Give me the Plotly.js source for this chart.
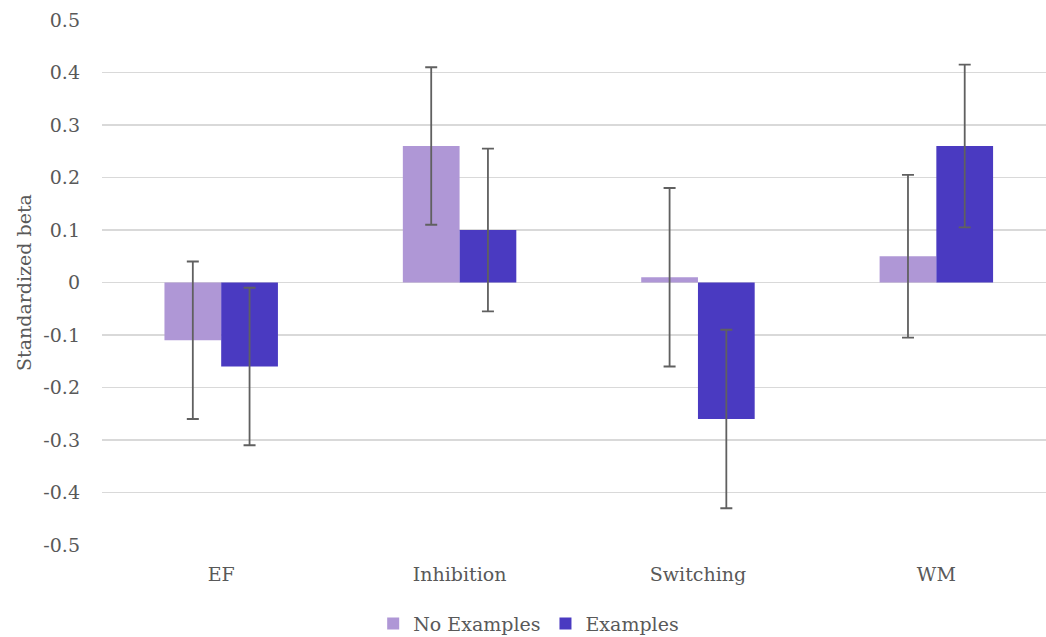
<!DOCTYPE html>
<html>
<head>
<meta charset="utf-8">
<script src="https://cdn.plot.ly/plotly-3.0.1.min.js"></script>
<style>html,body{margin:0;padding:0;background:#fff;}#chart{width:1046px;height:637px;}</style>
</head>
<body>
<div id="chart"></div>
<script>
const categories = ["EF", "Inhibition", "Switching", "WM"];
const noExamples = [-0.11, 0.26, 0.01, 0.05];
const noExamplesErr = [0.15, 0.15, 0.17, 0.155];
const examples = [-0.16, 0.10, -0.26, 0.26];
const examplesErr = [0.15, 0.155, 0.17, 0.155];
const yTicks = [-0.5, -0.4, -0.3, -0.2, -0.1, 0, 0.1, 0.2, 0.3, 0.4, 0.5];
const yTickText = ["-0.5", "-0.4", "-0.3", "-0.2", "-0.1", "0", "0.1", "0.2", "0.3", "0.4", "0.5"];

const font = "DejaVu Serif";
const errStyle = {type: "data", visible: true, color: "#606060", thickness: 1.8, width: 6};

const traces = [
  {type: "bar", name: "No Examples", x: categories, y: noExamples,
   marker: {color: "#AF97D6", line: {width: 0}},
   error_y: Object.assign({array: noExamplesErr}, errStyle)},
  {type: "bar", name: "Examples", x: categories, y: examples,
   marker: {color: "#4A3AC1", line: {width: 0}},
   error_y: Object.assign({array: examplesErr}, errStyle)}
];

const layout = {
  width: 1046, height: 637,
  margin: {l: 102, r: 0, t: 20, b: 92, autoexpand: false},
  paper_bgcolor: "#ffffff", plot_bgcolor: "#ffffff",
  font: {family: font, size: 18, color: "#595959"},
  barmode: "group", bargap: 0.524, bargroupgap: 0,
  showlegend: true,
  legend: {orientation: "h", x: 0.452, xanchor: "center", y: -0.15, yanchor: "middle",
           font: {family: font, size: 19, color: "#595959"}, itemwidth: 30, tracegroupgap: 0},
  xaxis: {type: "category", range: [-0.5, 3.46], showgrid: false, zeroline: false,
          showline: false, ticks: "", ticklabelstandoff: 16,
          tickfont: {family: font, size: 19, color: "#595959"}},
  yaxis: {range: [-0.5, 0.5], tickvals: yTicks, ticktext: yTickText,
          showgrid: true, gridcolor: "#d9d9d9", gridwidth: 1.3,
          zeroline: true, zerolinecolor: "#d9d9d9", zerolinewidth: 1.3,
          showline: false, ticks: "", ticklabelstandoff: 21,
          tickfont: {family: font, size: 19, color: "#595959"},
          title: {text: "Standardized beta", standoff: 6,
                  font: {family: font, size: 19, color: "#595959"}}}
};

Plotly.newPlot("chart", traces, layout, {displayModeBar: false, staticPlot: true});
</script>
</body>
</html>
